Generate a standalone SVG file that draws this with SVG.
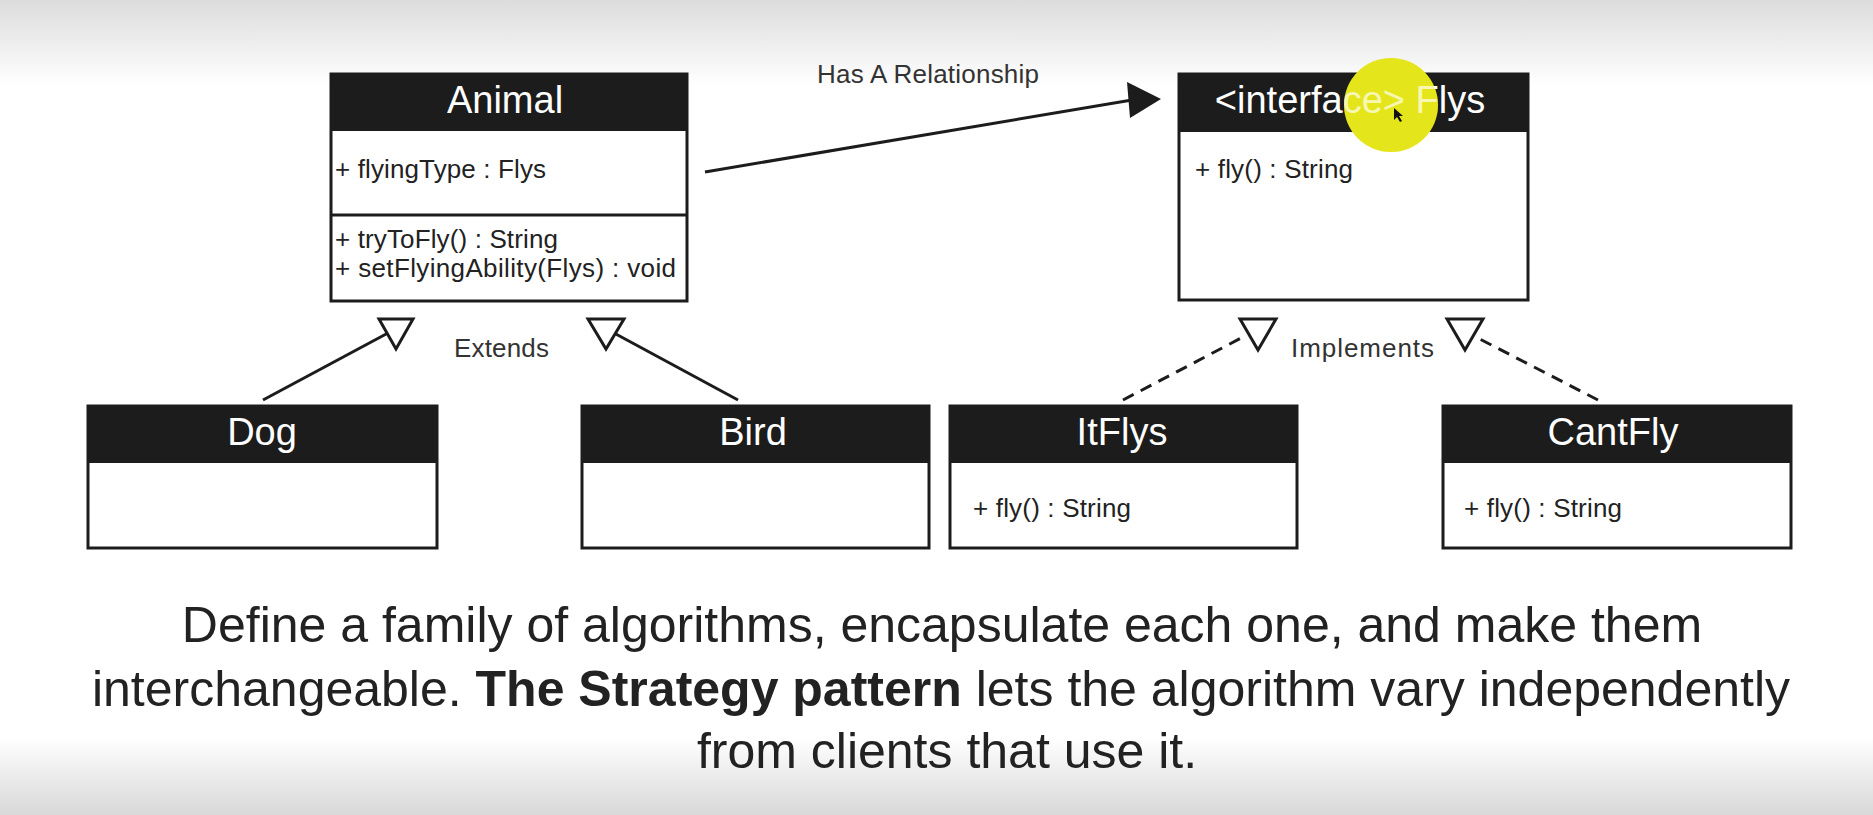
<svg xmlns="http://www.w3.org/2000/svg" width="1873" height="815" viewBox="0 0 1873 815">
  <defs>
    <linearGradient id="bg" x1="0" y1="0" x2="0" y2="1">
      <stop offset="0" stop-color="#dcdcdc"/>
      <stop offset="0.105" stop-color="#ffffff"/>
      <stop offset="0.905" stop-color="#ffffff"/>
      <stop offset="1" stop-color="#d8d8d8"/>
    </linearGradient>
    <style>
      .box { fill: #ffffff; stroke: #1c1c1c; stroke-width: 3; }
      .hdr { fill: #1c1c1c; }
      .div { stroke: #1c1c1c; stroke-width: 3; }
      .title { font-family: "Liberation Sans", Arial, sans-serif; font-size: 38px; fill: #ffffff; text-anchor: middle; }
      .mem { font-family: "Liberation Sans", Arial, sans-serif; font-size: 26px; fill: #222222; }
      .lbl { font-family: "Liberation Sans", Arial, sans-serif; font-size: 26px; fill: #333333; }
      .edge { stroke: #1c1c1c; stroke-width: 3; fill: none; }
      .dash { stroke: #1c1c1c; stroke-width: 3; fill: none; stroke-dasharray: 12 8; }
      .tri { fill: #ffffff; stroke: #1c1c1c; stroke-width: 3; stroke-linejoin: miter; }
      .para { font-family: "Liberation Sans", Arial, sans-serif; font-size: 50px; fill: #222222; text-anchor: middle; }
    </style>
  </defs>

  <rect x="0" y="0" width="1873" height="815" fill="url(#bg)"/>

  <g id="connectors">
    <!-- Has A relationship -->
    <line class="edge" x1="705" y1="172" x2="1132" y2="100"/>
    <polygon points="1161,99 1127,82 1130,118" fill="#1c1c1c"/>
    <!-- Extends -->
    <line class="edge" x1="263" y1="400" x2="388" y2="333"/>
    <polygon class="tri" points="379,319 413,319 396,349"/>
    <line class="edge" x1="738" y1="400" x2="614" y2="333"/>
    <polygon class="tri" points="588,319 624,319 606,349"/>
    <!-- Implements -->
    <line class="dash" x1="1123" y1="400" x2="1245" y2="336"/>
    <polygon class="tri" points="1240,319 1276,319 1258,350"/>
    <line class="dash" x1="1598" y1="400" x2="1474" y2="336"/>
    <polygon class="tri" points="1447,319 1483,319 1465,350"/>
    <text class="lbl" x="817" y="83" textLength="222">Has A Relationship</text>
    <text class="lbl" x="454" y="357" textLength="95">Extends</text>
    <text class="lbl" x="1291" y="357" textLength="143">Implements</text>
  </g>

  <g id="animal">
    <rect class="box" x="331" y="74" width="356" height="227"/>
    <rect class="hdr" x="331" y="74" width="356" height="57"/>
    <line class="div" x1="331" y1="215" x2="687" y2="215"/>
    <text class="title" x="505" y="113">Animal</text>
    <text class="mem" x="335" y="178" textLength="211">+ flyingType : Flys</text>
    <text class="mem" x="335" y="248" textLength="223">+ tryToFly() : String</text>
    <text class="mem" x="335" y="277" textLength="341">+ setFlyingAbility(Flys) : void</text>
  </g>

  <g id="flys">
    <rect class="box" x="1179" y="74" width="349" height="226"/>
    <rect class="hdr" x="1179" y="74" width="349" height="58"/>
    <circle cx="1391" cy="105" r="47" fill="#e4e41c"/>
    <text class="title" x="1350" y="113">&lt;interface&gt; Flys</text>
    <circle cx="1391" cy="105" r="47" fill="#e8e81e" opacity="0.35"/>
    <polygon points="1394,108 1394,120 1397,117 1400,122 1402,121 1399,116 1403,116" fill="#111111"/>
    <text class="mem" x="1195" y="178" textLength="158">+ fly() : String</text>
  </g>

  <g id="dog">
    <rect class="box" x="88" y="406" width="349" height="142"/>
    <rect class="hdr" x="88" y="406" width="349" height="57"/>
    <text class="title" x="262" y="445">Dog</text>
  </g>

  <g id="bird">
    <rect class="box" x="582" y="406" width="347" height="142"/>
    <rect class="hdr" x="582" y="406" width="347" height="57"/>
    <text class="title" x="753" y="445">Bird</text>
  </g>

  <g id="itflys">
    <rect class="box" x="950" y="406" width="347" height="142"/>
    <rect class="hdr" x="950" y="406" width="347" height="57"/>
    <text class="title" x="1122" y="445">ItFlys</text>
    <text class="mem" x="973" y="517" textLength="158">+ fly() : String</text>
  </g>

  <g id="cantfly">
    <rect class="box" x="1443" y="406" width="348" height="142"/>
    <rect class="hdr" x="1443" y="406" width="348" height="57"/>
    <text class="title" x="1613" y="445">CantFly</text>
    <text class="mem" x="1464" y="517" textLength="158">+ fly() : String</text>
  </g>

  <g id="caption">
    <text class="para" x="942" y="642">Define a family of algorithms, encapsulate each one, and make them</text>
    <text class="para" x="941" y="706">interchangeable. <tspan font-weight="bold">The Strategy pattern</tspan> lets the algorithm vary independently</text>
    <text class="para" x="947" y="768">from clients that use it.</text>
  </g>
</svg>
